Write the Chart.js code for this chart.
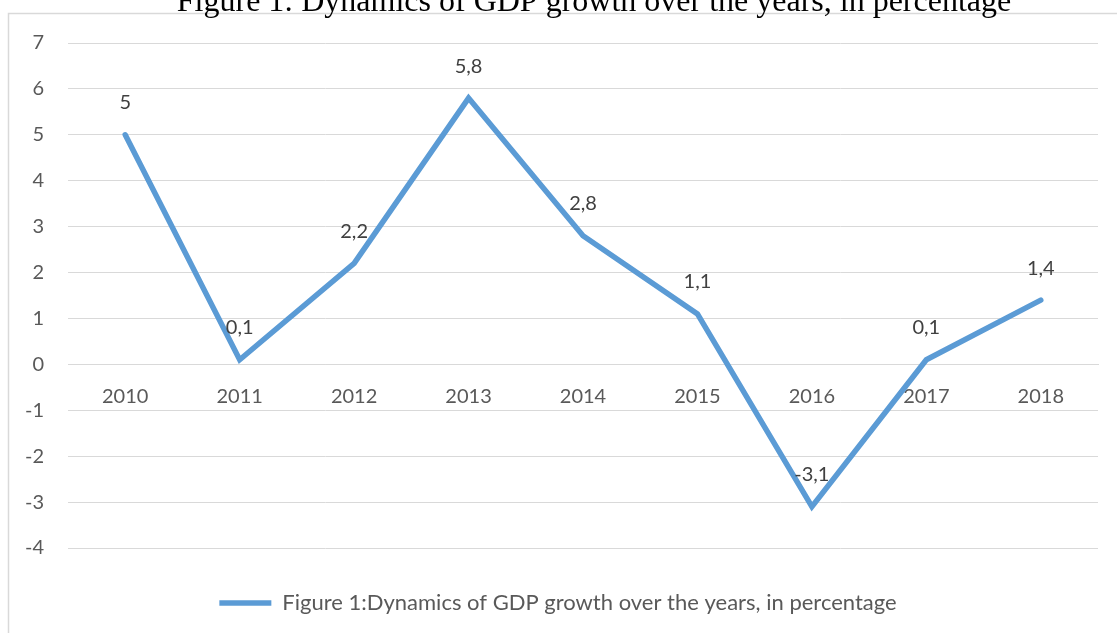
<!DOCTYPE html>
<html><head><meta charset="utf-8">
<script src="https://cdn.jsdelivr.net/npm/chart.js@4.4.1/dist/chart.umd.min.js"></script>
<style>html,body{margin:0;padding:0;background:#fff}#wrap{width:1117px;height:633px;position:relative}</style>
</head><body><div id="wrap"><canvas id="c" width="1117" height="633"></canvas></div>
<script>
const categories = ['2010','2011','2012','2013','2014','2015','2016','2017','2018'];
const gdpGrowth = [5, 0.1, 2.2, 5.8, 2.8, 1.1, -3.1, 0.1, 1.4];
const seriesName = 'Figure 1:Dynamics of GDP growth over the years, in percentage';
const titleText = 'Figure 1: Dynamics of GDP growth over the years, in percentage';
const yMin = -4, yMax = 7, yStep = 1;

const frame = {
  id: 'frame',
  beforeDraw(chart) {
    const ctx = chart.ctx;
    ctx.save();
    ctx.fillStyle = '#fff';
    ctx.fillRect(0, 0, chart.width, chart.height);
    ctx.strokeStyle = '#d9d9d9';
    ctx.lineWidth = 1.5;
    ctx.strokeRect(8.5, 13.5, chart.width + 20, chart.height + 20);
    ctx.fillStyle = '#000';
    ctx.font = '32px "Liberation Serif", "Times New Roman", serif';
    ctx.textAlign = 'center';
    ctx.textBaseline = 'alphabetic';
    ctx.fillText(titleText, 594, 10.5);
    ctx.restore();
  }
};

const valueLabels = {
  id: 'valueLabels',
  afterDatasetsDraw(chart) {
    const ctx = chart.ctx;
    const meta = chart.getDatasetMeta(0);
    ctx.save();
    ctx.fillStyle = '#404040';
    ctx.font = '20px Lato, "Open Sans", sans-serif';
    ctx.textAlign = 'center';
    ctx.textBaseline = 'middle';
    meta.data.forEach((pt, i) => {
      const v = chart.data.datasets[0].data[i];
      ctx.fillText(String(v).replace('.', ','), pt.x, pt.y - 32);
    });
    ctx.restore();
  }
};

new Chart(document.getElementById('c'), {
  type: 'line',
  data: {
    labels: categories,
    datasets: [{
      label: seriesName,
      data: gdpGrowth,
      borderColor: '#5B9BD5',
      backgroundColor: '#5B9BD5',
      borderWidth: 5.5,
      borderCapStyle: 'round',
      borderJoinStyle: 'miter',
      tension: 0,
      pointRadius: 0,
      pointHoverRadius: 0,
      pointStyle: 'line'
    }]
  },
  options: {
    responsive: false,
    animation: false,
    events: [],
    layout: { padding: { top: 43, left: 18, right: 19, bottom: 9 } },
    scales: {
      x: {
        type: 'category',
        position: { y: 0 },
        offset: true,
        grid: { display: false, drawTicks: false },
        border: { display: true, color: '#d9d9d9', width: 1 },
        ticks: { color: '#595959', font: { family: 'Lato', size: 20 }, padding: 20, maxRotation: 0, autoSkip: false }
      },
      y: {
        min: yMin, max: yMax,
        afterFit(scale) { scale.width = 50; },
        ticks: { stepSize: yStep, color: '#595959', font: { family: 'Lato', size: 20 }, padding: 24 },
        grid: { color: '#d9d9d9', lineWidth: 1, drawTicks: false },
        border: { display: false }
      }
    },
    plugins: {
      legend: {
        position: 'bottom',
        labels: {
          usePointStyle: true,
          pointStyleWidth: 52,
          color: '#595959',
          font: { family: 'Lato', size: 22 },
          padding: 44
        }
      },
      tooltip: { enabled: false },
      title: { display: false }
    }
  },
  plugins: [frame, valueLabels]
});
</script></body></html>
